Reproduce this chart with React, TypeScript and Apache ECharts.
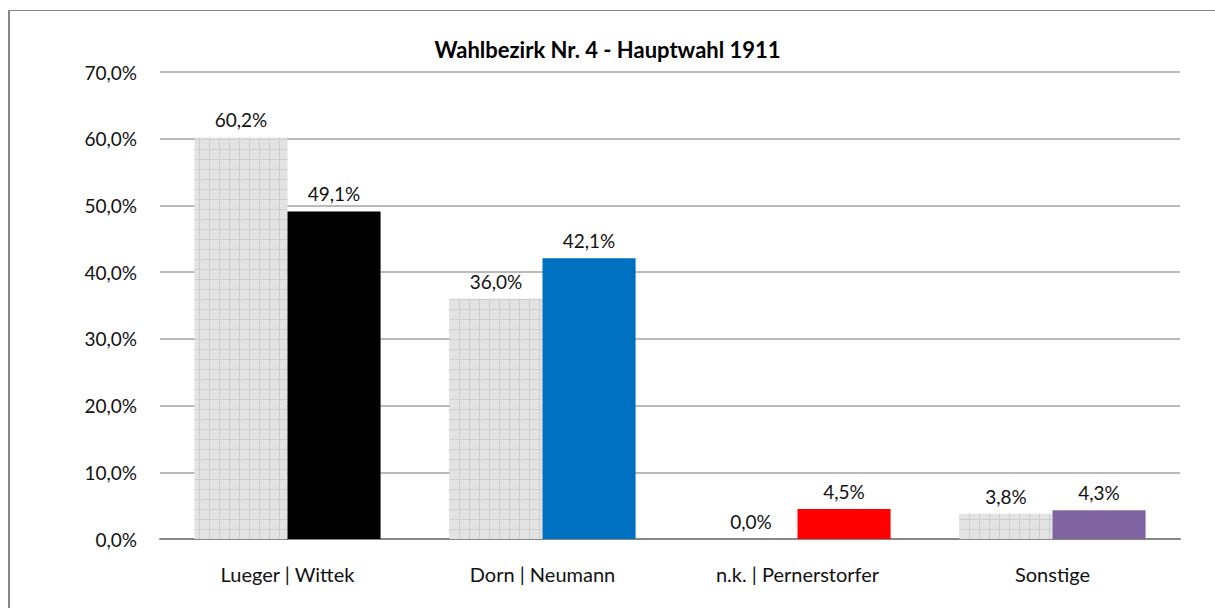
import React, { useEffect, useRef } from "react";
import * as echarts from "echarts";

const categories = ["Lueger | Wittek", "Dorn | Neumann", "n.k. | Pernerstorfer", "Sonstige"];
const previousValues = [60.2, 36.0, 0.0, 3.8];
const currentValues = [49.1, 42.1, 4.5, 4.3];
const currentColors = ["#000000", "#0070C0", "#FF0000", "#8064A2"];
const titleText = "Wahlbezirk Nr. 4 - Hauptwahl 1911";

const FONT = "Lato, 'Open Sans', sans-serif";

const patternSvg =
  "<svg xmlns='http://www.w3.org/2000/svg' width='10' height='10'>" +
  "<rect width='10' height='10' fill='#e4e4e4'/>" +
  "<rect x='1' y='1' width='1' height='1' fill='#d9d9d9'/>" +
  "<rect x='3' y='3' width='1' height='1' fill='#d9d9d9'/>" +
  "<rect x='5' y='5' width='1' height='1' fill='#d9d9d9'/>" +
  "<rect x='7' y='7' width='1' height='1' fill='#d9d9d9'/>" +
  "<rect x='3' y='7' width='1' height='1' fill='#d9d9d9'/>" +
  "<rect x='7' y='3' width='1' height='1' fill='#d9d9d9'/>" +
  "<rect x='9' y='0' width='1' height='10' fill='#cdcdcd'/>" +
  "<rect x='0' y='9' width='10' height='1' fill='#cdcdcd'/>" +
  "</svg>";
const patternUrl = "data:image/svg+xml;charset=utf-8," + encodeURIComponent(patternSvg);

const fmt = (v: number) => v.toFixed(1).replace(".", ",") + "%";

export default function App() {
  const ref = useRef<HTMLDivElement>(null);
  useEffect(() => {
    if (!ref.current) return;
    const chart = echarts.init(ref.current, null, { renderer: "svg" });
    const barLabel = {
      show: true,
      position: "top",
      distance: 8,
      fontFamily: FONT,
      fontSize: 19,
      color: "#111",
      formatter: (p: any) => fmt(p.value),
    };
    chart.setOption({
      animation: false,
      backgroundColor: "#ffffff",
      graphic: [
        { type: "line", shape: { x1: 8, y1: 10.5, x2: 1215, y2: 10.5 }, style: { stroke: "#878787", lineWidth: 1 } },
        { type: "line", shape: { x1: 9, y1: 10, x2: 9, y2: 608 }, style: { stroke: "#878787", lineWidth: 2 } },
      ],
      title: {
        text: titleText,
        left: "center",
        top: 33,
        textStyle: { fontFamily: FONT, fontSize: 22, fontWeight: "bold", color: "#000" },
      },
      grid: { left: 160, right: 35, top: 72, bottom: 69, containLabel: false },
      xAxis: {
        type: "category",
        data: categories,
        axisLine: { show: true, lineStyle: { color: "#878787", width: 2 } },
        axisTick: { show: false },
        axisLabel: { fontFamily: FONT, fontSize: 20, color: "#111", margin: 25 },
      },
      yAxis: {
        type: "value",
        min: 0,
        max: 70,
        interval: 10,
        axisLine: { show: false },
        axisTick: { show: false },
        splitLine: { lineStyle: { color: "#a3a3a3", width: 1.5 } },
        axisLabel: {
          fontFamily: FONT,
          fontSize: 19,
          color: "#111",
          margin: 23,
          formatter: (v: number) => fmt(v),
        },
      },
      series: [
        {
          type: "bar",
          data: previousValues,
          barGap: "0%",
          barCategoryGap: "27%",
          itemStyle: {
            color: { image: patternUrl, repeat: "repeat", imageWidth: 10, imageHeight: 10 } as any,
          },
          label: barLabel,
        },
        {
          type: "bar",
          data: currentValues.map((v, i) => ({ value: v, itemStyle: { color: currentColors[i] } })),
          label: barLabel,
        },
      ],
    });
    return () => chart.dispose();
  }, []);
  return (
    <div style={{ position: "fixed", left: 0, top: 0, width: 1215, height: 608, overflow: "hidden", background: "#fff" }}>
      <div ref={ref} style={{ position: "absolute", left: 0, top: 0, width: 1215, height: 608 }} />
    </div>
  );
}
